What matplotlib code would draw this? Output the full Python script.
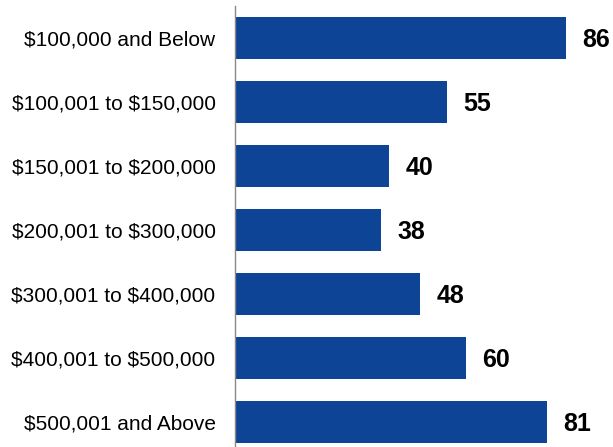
import matplotlib
matplotlib.use("Agg")
from matplotlib import pyplot as plt

categories = [r"\$100,000 and Below", r"\$100,001 to \$150,000", r"\$150,001 to \$200,000",
              r"\$200,001 to \$300,000", r"\$300,001 to \$400,000", r"\$400,001 to \$500,000",
              r"\$500,001 and Above"]
values = [86, 55, 40, 38, 48, 60, 81]

plt.rcParams['font.family'] = ['Liberation Sans', 'DejaVu Sans']

fig = plt.figure(figsize=(6.13, 4.47), dpi=100)
ax = fig.add_axes([235 / 613, 0, 1 - 235 / 613, 441 / 447])

pos = list(range(len(categories)))
ax.barh(pos, values, height=0.67, color="#0d4496")
for p, v in zip(pos, values):
    ax.annotate(str(v), (v, p), xytext=(12, -1.5), textcoords="offset points",
                ha="left", va="center", fontsize=18, fontweight="bold")

ax.set_xlim(0, 98.2)
ax.set_ylim(6.39, -0.5)
ax.set_yticks(pos)
ax.set_yticklabels(categories, fontsize=15)
ax.tick_params(axis="y", length=0, pad=14)
ax.set_xticks([])
for s in ["top", "right", "bottom"]:
    ax.spines[s].set_visible(False)
ax.spines["left"].set_color("#888888")
ax.spines["left"].set_linewidth(1)

fig.savefig("out.png", dpi=100)
